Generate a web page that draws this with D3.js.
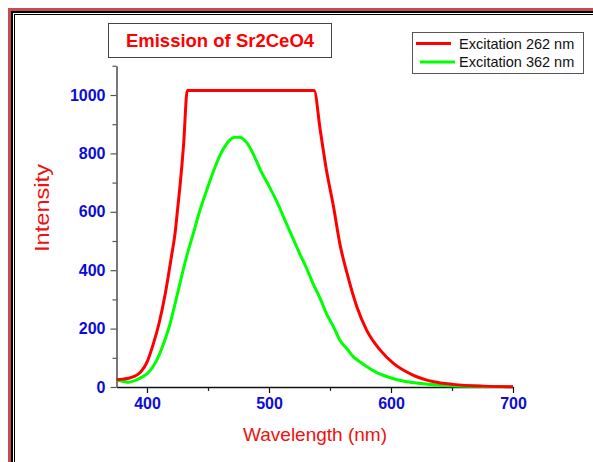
<!DOCTYPE html>
<html>
<head>
<meta charset="utf-8">
<script src="https://cdn.jsdelivr.net/npm/d3@7"></script>
<style>
  body { margin: 0; background: #fff; }
  svg { display: block; font-family: Arial, "Liberation Sans", sans-serif; }
</style>
</head>
<body>
<svg id="svg"></svg>
<script>
// emission spectra, wavelength (nm) vs intensity
const red262 = [
  [375, 25], [380, 27], [385, 30], [390, 37], [395, 52], [400, 85], [405, 145],
  [410, 220], [415, 320], [420, 446], [423, 526], [425, 606], [427, 686], [430, 830],
  [433, 1015], [450, 1015], [480, 1015], [510, 1015], [537, 1015], [542, 880],
  [547, 745], [553, 615], [558, 492], [564, 389], [572, 275], [580, 195], [591, 127],
  [602, 81], [618, 41], [635, 18], [651, 9], [676, 3], [700, 1]
];
const green362 = [
  [375, 22], [380, 20], [385, 16], [390, 22], [395, 32], [400, 45], [405, 70],
  [410, 110], [415, 165], [419, 218], [423, 285], [427, 355], [432, 440], [438, 526],
  [443, 600], [449, 675], [455, 745], [460, 795], [464, 825], [468, 846], [472, 855],
  [476, 855], [480, 845], [484, 823], [488, 790], [493, 743], [500, 688], [507, 630],
  [513, 572], [519, 515], [525, 458], [531, 405], [536, 355], [542, 303], [547, 252],
  [553, 205], [558, 161], [564, 130], [569, 104], [575, 85], [580, 70], [588, 50],
  [597, 35], [605, 25], [613, 18], [625, 12], [635, 8], [650, 4], [675, 2], [700, 1]
];
const seriesNames = ["Excitation 262 nm", "Excitation 362 nm"];
const seriesColors = ["#ff0000", "#00ff00"];
const xMajor = [400, 500, 600, 700];
const xMinor = [450, 550, 650];
const yMajor = [0, 200, 400, 600, 800, 1000];
const yMinor = [100, 300, 500, 700, 900, 1100];

let width = 593, height = 462;
let svg = d3.select("#svg").attr("width", width).attr("height", height);

// page frame
svg.append("rect").attr("x", 9.5).attr("y", 9.5).attr("width", 800).attr("height", 800)
  .attr("fill", "none").attr("stroke", "#c0504d").attr("stroke-width", 3);
svg.append("rect").attr("x", 12).attr("y", 12).attr("width", 800).attr("height", 800)
  .attr("fill", "none").attr("stroke", "#000").attr("stroke-width", 2);
svg.append("rect").attr("x", 14.5).attr("y", 14.5).attr("width", 800).attr("height", 800)
  .attr("fill", "none").attr("stroke", "#000").attr("stroke-width", 1);

let x = d3.scaleLinear().domain([375, 700]).range([116.5, 513]);
let y = d3.scaleLinear().domain([0, 1100]).range([387, 65.8]);

// minor ticks
svg.append("g").attr("transform", "translate(0,387)")
  .call(d3.axisBottom(x).tickValues(xMinor).tickFormat("").tickSize(4))
  .call(g => g.select(".domain").remove())
  .call(g => g.selectAll("line").attr("stroke", "#222").attr("stroke-width", 1.2));
svg.append("g").attr("transform", "translate(116.5,0)")
  .call(d3.axisLeft(y).tickValues(yMinor).tickFormat("").tickSize(4))
  .call(g => g.select(".domain").remove())
  .call(g => g.selectAll("line").attr("stroke", "#555").attr("stroke-width", 1.2));

// major axes
let fmt = d3.format("d");
let xAxis = svg.append("g").attr("transform", "translate(0,387)")
  .call(d3.axisBottom(x).tickValues(xMajor).tickFormat(fmt).tickSize(6).tickSizeOuter(0).tickPadding(5));
xAxis.select(".domain").attr("stroke", "#111").attr("stroke-width", 1.6);
xAxis.selectAll("line").attr("stroke", "#111").attr("stroke-width", 1.2);
xAxis.selectAll("text").attr("fill", "#0c0cd8").style("font-size", "16px")
  .style("font-weight", "bold").style("font-family", "Arial, 'Liberation Sans', sans-serif");

let yAxis = svg.append("g").attr("transform", "translate(116.5,0)")
  .call(d3.axisLeft(y).tickValues(yMajor).tickFormat(fmt).tickSize(6).tickSizeOuter(0).tickPadding(5));
yAxis.select(".domain").attr("stroke", "#555").attr("stroke-width", 1.6);
yAxis.selectAll("line").attr("stroke", "#555").attr("stroke-width", 1.2);
yAxis.selectAll("text").attr("fill", "#0c0cd8").style("font-size", "16px")
  .style("font-weight", "bold").style("font-family", "Arial, 'Liberation Sans', sans-serif");

// curves
let line = d3.line().x(d => x(d[0])).y(d => y(d[1])).curve(d3.curveMonotoneX);
svg.append("path").datum(green362).attr("d", line)
  .attr("fill", "none").attr("stroke", seriesColors[1]).attr("stroke-width", 3);
svg.append("path").datum(red262).attr("d", line)
  .attr("fill", "none").attr("stroke", seriesColors[0]).attr("stroke-width", 3);

// axis titles
svg.append("text").attr("x", 315).attr("y", 441).attr("text-anchor", "middle")
  .attr("fill", "#f01010").style("font-size", "19px").text("Wavelength (nm)");
svg.append("text").attr("transform", "translate(49,208) rotate(-90)").attr("text-anchor", "middle")
  .attr("fill", "#f01010").style("font-size", "20px")
  .attr("textLength", 88).attr("lengthAdjust", "spacingAndGlyphs").text("Intensity");

// title box
svg.append("rect").attr("x", 108.5).attr("y", 23.5).attr("width", 223).attr("height", 34)
  .attr("fill", "#fff").attr("stroke", "#444").attr("stroke-width", 1);
svg.append("text").attr("x", 220).attr("y", 47).attr("text-anchor", "middle")
  .attr("fill", "#ff0000").style("font-size", "18.5px").style("font-weight", "bold")
  .text("Emission of Sr2CeO4");

// legend
svg.append("rect").attr("x", 412.5).attr("y", 32.5).attr("width", 171).attr("height", 41)
  .attr("fill", "#fff").attr("stroke", "#555").attr("stroke-width", 1);
let legRows = [
  { name: seriesNames[0], color: seriesColors[0], x1: 416, x2: 451, cy: 43.5 },
  { name: seriesNames[1], color: seriesColors[1], x1: 420, x2: 455, cy: 62 }
];
let leg = svg.append("g").selectAll("g").data(legRows).join("g");
leg.append("line").attr("x1", d => d.x1).attr("x2", d => d.x2)
  .attr("y1", d => d.cy).attr("y2", d => d.cy)
  .attr("stroke", d => d.color).attr("stroke-width", 3);
leg.append("text").attr("x", 459).attr("y", d => d.cy + 5)
  .attr("fill", "#111").style("font-size", "14.5px").text(d => d.name);
</script>
</body>
</html>
